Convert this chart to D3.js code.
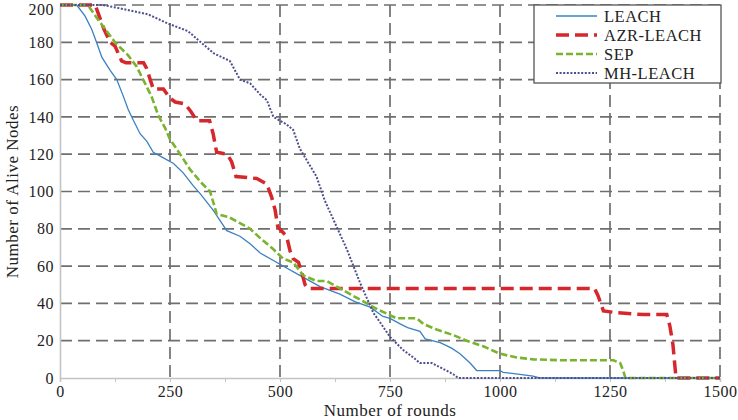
<!DOCTYPE html>
<html>
<head>
<meta charset="utf-8">
<script src="https://cdn.jsdelivr.net/npm/d3@7"></script>
<style>
  html, body { margin: 0; padding: 0; background: #fff; }
  svg { display: block; font-family: "Liberation Serif", "Times New Roman", serif; }
</style>
</head>
<body>
<svg id="chart" width="738" height="420"></svg>
<script>
// [round, alive nodes]
const leach = [
  [0, 200], [38, 200], [57, 194], [72, 187], [83, 180], [95, 172], [114, 165],
  [129, 160], [144, 151], [155, 144], [165, 139], [182, 131], [197, 127],
  [212, 121], [235, 118], [258, 115], [280, 110], [303, 103], [318, 99],
  [348, 90], [365, 84], [379, 79], [409, 76], [432, 72], [455, 67], [500, 61],
  [545, 55], [591, 49], [636, 45], [670, 41], [705, 38], [734, 33], [750, 32],
  [773, 29], [790, 27], [818, 25], [830, 21], [864, 19], [890, 16], [909, 13],
  [932, 8], [947, 4], [1000, 4], [1007, 3], [1045, 2], [1075, 1], [1090, 0],
  [1500, 0]
];
const azrLeach = [
  [0, 200], [80, 200], [100, 187], [114, 180], [125, 178], [140, 170],
  [150, 169], [190, 169], [197, 166], [205, 160], [212, 155], [235, 155],
  [250, 150], [262, 148], [284, 147], [297, 143], [311, 138], [340, 138],
  [348, 131], [356, 121], [380, 120], [390, 116], [400, 108], [447, 107],
  [470, 104], [481, 97], [489, 90], [495, 81], [515, 76], [523, 68],
  [530, 64], [542, 62], [549, 57], [557, 50], [564, 48], [1215, 48],
  [1223, 44], [1235, 36], [1265, 35], [1326, 34], [1379, 34], [1386, 28],
  [1393, 18], [1400, 0], [1500, 0]
];
const sep = [
  [0, 200], [63, 200], [87, 192], [106, 186], [125, 180], [155, 173],
  [174, 167], [189, 160], [208, 151], [223, 141], [239, 134], [250, 128],
  [273, 120], [295, 112], [320, 105], [341, 100], [350, 93], [356, 88],
  [386, 86], [409, 83], [432, 80], [455, 75], [485, 69], [507, 64],
  [530, 62], [553, 55], [583, 52], [606, 52], [644, 47], [682, 42],
  [720, 37], [765, 32], [811, 32], [826, 29], [856, 26], [894, 23],
  [924, 20], [962, 17], [1000, 13], [1038, 11], [1076, 10], [1140, 9.5],
  [1258, 9.5], [1273, 8], [1280, 4], [1285, 0], [1500, 0]
];
const mhLeach = [
  [0, 200], [98, 200], [140, 198], [200, 195], [246, 190], [291, 186],
  [320, 180], [350, 174], [386, 170], [409, 160], [432, 158], [455, 152],
  [470, 149], [485, 140], [515, 136], [530, 133], [545, 123], [583, 108],
  [602, 95], [629, 81], [652, 69], [667, 60], [682, 51], [697, 43],
  [712, 35], [727, 30], [750, 22], [780, 15], [803, 11], [818, 8],
  [845, 8], [870, 5], [894, 2], [905, 0], [1500, 0]
];

const seriesNames = ["LEACH", "AZR-LEACH", "SEP", "MH-LEACH"];
const xTicks = [0, 250, 500, 750, 1000, 1250, 1500];
const yTicks = [0, 20, 40, 60, 80, 100, 120, 140, 160, 180, 200];

const STYLES = [
  { color: "#3a80c3", width: 1.3, dash: null },
  { color: "#d6282c", width: 3.5, dash: "13,6" },
  { color: "#7ab32e", width: 2.6, dash: "7,3" },
  { color: "#4d4f8e", width: 2, dash: "2,1.6" },
];

const WIDTH = 738;
const HEIGHT = 420;
const margin = { top: 5, right: 18, bottom: 42, left: 60 };
const iwidth = WIDTH - margin.left - margin.right;
const iheight = HEIGHT - margin.top - margin.bottom;

const svg = d3.select("#chart");
const g = svg.append("g").attr("transform", `translate(${margin.left},${margin.top})`);

const x = d3.scaleLinear().domain([0, 1500]).range([0, iwidth]);
const y = d3.scaleLinear().domain([0, 200]).range([iheight, 0]);

// dashed grid
g.append("g")
  .selectAll("line")
  .data(yTicks.slice(1))
  .join("line")
  .attr("x1", 0)
  .attr("x2", iwidth)
  .attr("y1", (d) => y(d))
  .attr("y2", (d) => y(d))
  .attr("stroke", "#6f6f6f")
  .attr("stroke-width", 1.7)
  .attr("stroke-dasharray", "12,6");

g.append("g")
  .selectAll("line")
  .data(xTicks.slice(1))
  .join("line")
  .attr("x1", (d) => x(d))
  .attr("x2", (d) => x(d))
  .attr("y1", 0)
  .attr("y2", iheight)
  .attr("stroke", "#6f6f6f")
  .attr("stroke-width", 1.7)
  .attr("stroke-dasharray", "12,6");

// axes
g.append("g")
  .attr("transform", `translate(0,${iheight})`)
  .call(d3.axisBottom(x).tickValues(d3.range(0, 1501, 125)).tickSize(4).tickFormat((d) => (d % 250 === 0 ? d : "")))
  .call((a) => {
    a.select(".domain").attr("stroke", "#c4c4c4").attr("stroke-width", 1.6);
    a.selectAll(".tick line").attr("stroke", "#c4c4c4");
    a.selectAll(".tick text")
      .attr("font-size", "16px")
      .attr("font-family", "Liberation Serif, serif")
      .attr("letter-spacing", "0.5px")
      .attr("fill", "#222")
      .attr("y", 8);
  });

g.append("g")
  .call(d3.axisLeft(y).tickValues(yTicks).tickSize(0).tickPadding(6))
  .call((a) => {
    a.select(".domain").attr("stroke", "#c4c4c4").attr("stroke-width", 1.6);
    a.selectAll(".tick text")
      .attr("font-size", "16px")
      .attr("font-family", "Liberation Serif, serif")
      .attr("letter-spacing", "0.5px")
      .attr("fill", "#222")
      .attr("dy", (d) => (d === 200 ? "0.6em" : "0.32em"));
  });

// series
const line = d3.line().x((d) => x(d[0])).y((d) => y(d[1]));
const allSeries = [leach, azrLeach, sep, mhLeach];

allSeries.forEach((data, i) => {
  const s = STYLES[i];
  g.append("path")
    .attr("d", line(data))
    .attr("fill", "none")
    .attr("stroke", s.color)
    .attr("stroke-width", s.width)
    .attr("stroke-dasharray", s.dash);
});

// axis titles
svg.append("text")
  .attr("x", margin.left + iwidth / 2)
  .attr("y", 416)
  .attr("text-anchor", "middle")
  .attr("font-size", "17px")
  .attr("letter-spacing", "0.5px")
  .attr("fill", "#222")
  .text("Number of rounds");

svg.append("text")
  .attr("transform", `translate(18,${margin.top + iheight / 2}) rotate(-90)`)
  .attr("text-anchor", "middle")
  .attr("font-size", "17px")
  .attr("letter-spacing", "0.5px")
  .attr("fill", "#222")
  .text("Number of Alive Nodes");

// legend
const legend = svg.append("g").attr("transform", "translate(534,5)");
legend.append("rect")
  .attr("width", 187)
  .attr("height", 78)
  .attr("fill", "#fff")
  .attr("stroke", "#555")
  .attr("stroke-width", 1.3);

seriesNames.forEach((name, i) => {
  const s = STYLES[i];
  const cy = 11 + i * 19;
  legend.append("line")
    .attr("x1", 22)
    .attr("x2", 63)
    .attr("y1", cy)
    .attr("y2", cy)
    .attr("stroke", s.color)
    .attr("stroke-width", s.width)
    .attr("stroke-dasharray", s.dash);
  legend.append("text")
    .attr("x", 70)
    .attr("y", cy + 5.5)
    .attr("font-size", "16.5px")
    .attr("letter-spacing", "0.5px")
    .attr("fill", "#222")
    .text(name);
});
</script>
</body>
</html>
